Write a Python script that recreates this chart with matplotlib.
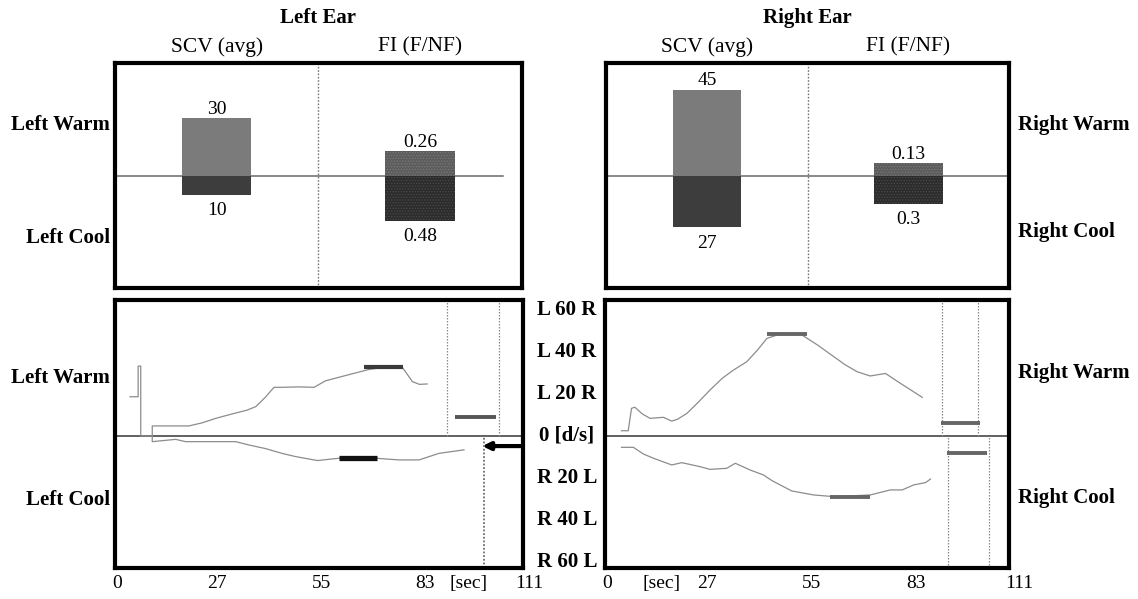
import matplotlib
matplotlib.use("Agg")
import matplotlib.pyplot as plt
from matplotlib.transforms import blended_transform_factory

plt.rcParams['font.family'] = ['Liberation Serif', 'DejaVu Serif']
plt.rcParams['hatch.linewidth'] = 0.6

# ---------------- data ----------------
ears = ["Left Ear", "Right Ear"]
columns = ["SCV (avg)", "FI (F/NF)"]
scv_warm = [30, 45]
scv_cool = [10, 27]
fi_warm = [0.26, 0.13]
fi_cool = [0.48, 0.3]
scv_warm_lbl = ["30", "45"]
scv_cool_lbl = ["10", "27"]
fi_warm_lbl = ["0.26", "0.13"]
fi_cool_lbl = ["0.48", "0.3"]

x_ticks = [0, 27, 55, 83, 111]
x_tick_labels = ["0", "27", "55", "83", "111"]
y_ticks = [60, 40, 20, 0, -20, -40, -60]
y_tick_labels = ["L 60 R", "L 40 R", "L 20 R", "0 [d/s]", "R 20 L", "R 40 L", "R 60 L"]

# Left ear traces (time [s], eye velocity [d/s])
left_warm_t = [3.5, 5.7, 5.7, 6.4, 6.4, 9.5, 9.5, 19.4, 23.0, 26.6, 31.0, 35.0, 37.4, 40.0,
               42.3, 44.5, 49.0, 53.1, 56.2, 62.0, 67.9, 72.0, 76.9, 79.6, 81.5, 83.6]
left_warm_v = [18.7, 18.7, 33.3, 33.3, 0.0, 0.0, 4.8, 4.8, 6.3, 8.4, 10.5, 12.3, 14.0, 18.5,
               23.2, 23.2, 23.4, 23.2, 26.3, 29.0, 31.7, 32.7, 32.7, 25.9, 24.6, 24.8]
left_cool_t = [9.5, 9.5, 15.8, 18.5, 24.8, 32.0, 35.6, 40.0, 44.5, 48.1, 54.0, 59.8, 69.7,
               76.0, 81.4, 86.7, 93.5]
left_cool_v = [0.0, -2.7, -1.6, -2.7, -2.7, -2.7, -4.3, -6.0, -8.3, -9.8, -11.7, -10.6,
               -10.6, -11.4, -11.4, -8.3, -6.6]
left_warm_scv = (66.5, 77.1, 32.7)
left_cool_scv = (59.8, 70.1, -10.6)
left_warm_fi = (91.2, 102.2, 9.2)
left_cool_fi = (98.4, 109.4, -4.8)
left_warm_fi_bounds = [89.0, 102.9]
left_cool_fi_bounds = [98.9]

# Right ear traces
right_warm_t = [3.9, 5.7, 6.6, 7.5, 9.5, 11.6, 15.2, 17.4, 19.0, 21.5, 24.5, 27.7, 31.0, 34.0,
                37.6, 40.5, 43.0, 46.6, 52.0, 56.5, 61.0, 64.0, 67.3, 70.8, 74.9, 78.9,
                82.0, 84.8]
right_warm_v = [2.5, 2.5, 13.2, 13.7, 10.5, 8.4, 8.9, 7.1, 8.0, 10.8, 16.0, 21.9, 27.5, 31.4,
                35.4, 41.0, 46.5, 48.6, 48.6, 43.5, 37.8, 34.0, 30.6, 28.6, 29.8, 25.1,
                21.6, 18.4]
right_cool_t = [3.9, 7.1, 9.8, 12.5, 17.4, 20.1, 25.0, 27.7, 32.2, 34.5, 38.5, 42.1, 44.4,
                49.7, 55.6, 61.0, 70.8, 76.2, 79.4, 82.5, 85.7, 87.0]
right_cool_v = [-5.4, -5.4, -8.6, -10.6, -13.8, -12.7, -14.6, -15.9, -15.4, -13.0, -16.2,
                -18.6, -21.3, -26.2, -28.1, -28.9, -28.1, -25.7, -25.7, -23.3, -22.2, -20.5]
right_warm_scv = (43.0, 53.8, 48.6)
right_cool_scv = (60.1, 70.7, -28.9)
right_warm_fi = (89.7, 100.3, 6.3)
right_cool_fi = (91.5, 102.1, -8.3)
right_warm_fi_bounds = [90.0, 99.8]
right_cool_fi_bounds = [91.8, 102.7]

# ---------------- figure ----------------
W, H = 1138, 599
fig = plt.figure(figsize=(W / 100, H / 100), dpi=100)


def fx(px):
    return px / W


def fy(py):
    return 1 - py / H


FS_LBL = 15
FS_HEAD = 15.5
FS_NUM = 14
SPINE_LW = 3.0

top_pos = [[fx(115), fy(288), fx(406.7), 224.7 / H],
           [fx(606), fy(288), fx(403.3), 224.7 / H]]
bot_pos = [[fx(115), fy(568), fx(408), 268 / H],
           [fx(605), fy(568), fx(404.3), 268 / H]]
bot_xlim = [(-0.54, 109.4), (-0.54, 108.2)]
zero_extent = [0.954, 1.0]

for i in range(2):
    ax = fig.add_axes(top_pos[i])
    axf = ax.twinx()
    ax.set_xlim(0, 2)
    ax.set_ylim(-58.8, 58.8)
    axf.set_ylim(-1.2, 1.2)
    for a in (ax, axf):
        a.set_xticks([])
        a.set_yticks([])
    for s in ax.spines.values():
        s.set_linewidth(SPINE_LW)
    for s in axf.spines.values():
        s.set_visible(False)
    ax.axhline(0, xmin=0, xmax=zero_extent[i], color="#6a6a6a", lw=1.1, zorder=1)
    ax.axvline(1, color="#777777", lw=1.0, ls=(0, (1.2, 1.2)), zorder=1)
    ax.bar(0.5, scv_warm[i], width=0.34, color="#7b7b7b", zorder=2)
    ax.bar(0.5, -scv_cool[i], width=0.34, color="#3d3d3d", zorder=2)
    axf.bar(1.5, fi_warm[i], width=0.34, color="#5c5c5c", hatch="......",
            edgecolor="#7a7a7a", lw=0, zorder=2)
    axf.bar(1.5, -fi_cool[i], width=0.34, color="#2c2c2c", hatch="......",
            edgecolor="#4a4a4a", lw=0, zorder=2)
    ax.annotate(scv_warm_lbl[i], (0.5, scv_warm[i]), xytext=(0, 0.3),
                textcoords="offset points", ha="center", va="bottom", fontsize=FS_NUM)
    ax.annotate(scv_cool_lbl[i], (0.5, -scv_cool[i]), xytext=(0, -5.5),
                textcoords="offset points", ha="center", va="top", fontsize=FS_NUM)
    axf.annotate(fi_warm_lbl[i], (1.5, fi_warm[i]), xytext=(0, 0.3),
                 textcoords="offset points", ha="center", va="bottom", fontsize=FS_NUM)
    axf.annotate(fi_cool_lbl[i], (1.5, -fi_cool[i]), xytext=(0, -5.5),
                 textcoords="offset points", ha="center", va="top", fontsize=FS_NUM)
    # headings
    bt = blended_transform_factory(ax.transData, fig.transFigure)
    ax.text(1.0, fy(18), ears[i], transform=bt, ha="center", va="center",
            fontsize=FS_LBL, fontweight="bold")
    ax.text(0.5, fy(47), columns[0], transform=bt, ha="center", va="center", fontsize=FS_HEAD)
    ax.text(1.5, fy(47), columns[1], transform=bt, ha="center", va="center", fontsize=FS_HEAD)

traces = [
    dict(wt=left_warm_t, wv=left_warm_v, ct=left_cool_t, cv=left_cool_v,
         ws=left_warm_scv, cs=left_cool_scv, wf=left_warm_fi, cf=left_cool_fi,
         wb=left_warm_fi_bounds, cb=left_cool_fi_bounds,
         wcol="#3a3a3a", ccol="#111111", wfcol="#555555", cfcol="#000000",
         wlw=3.0, clw=3.8, sec=94.6),
    dict(wt=right_warm_t, wv=right_warm_v, ct=right_cool_t, cv=right_cool_v,
         ws=right_warm_scv, cs=right_cool_scv, wf=right_warm_fi, cf=right_cool_fi,
         wb=right_warm_fi_bounds, cb=right_cool_fi_bounds,
         wcol="#666666", ccol="#666666", wfcol="#666666", cfcol="#666666",
         wlw=2.8, clw=2.8, sec=14.7),
]

bot_axes = []
for i, d in enumerate(traces):
    ax = fig.add_axes(bot_pos[i])
    bot_axes.append(ax)
    ax.set_xlim(*bot_xlim[i])
    ax.set_ylim(-62.9, 64.8)
    ax.set_xticks([])
    ax.set_yticks([])
    for s in ax.spines.values():
        s.set_linewidth(SPINE_LW)
    ax.axhline(0, color="#555555", lw=1.3, zorder=1)
    ax.plot(d["wt"], d["wv"], color="#8c8c8c", lw=0.9, zorder=2)
    ax.plot(d["ct"], d["cv"], color="#8c8c8c", lw=0.9, zorder=2)
    ax.plot(d["ws"][:2], [d["ws"][2]] * 2, color=d["wcol"], lw=d["wlw"],
            solid_capstyle="butt", zorder=3)
    ax.plot(d["cs"][:2], [d["cs"][2]] * 2, color=d["ccol"], lw=d["clw"],
            solid_capstyle="butt", zorder=3)
    ax.plot(d["wf"][:2], [d["wf"][2]] * 2, color=d["wfcol"], lw=2.8,
            solid_capstyle="butt", zorder=3)
    if i == 0:
        ax.annotate("", xy=(d["cf"][0], d["cf"][2]), xytext=(d["cf"][1], d["cf"][2]),
                    arrowprops=dict(arrowstyle="-|>,head_length=0.45,head_width=0.22",
                                    color=d["cfcol"], lw=3.0, shrinkA=0, shrinkB=0),
                    zorder=3)
    else:
        ax.plot(d["cf"][:2], [d["cf"][2]] * 2, color=d["cfcol"], lw=2.8,
                solid_capstyle="butt", zorder=3)
    ylo, yhi = ax.get_ylim()
    for xb in d["wb"]:
        ax.plot([xb, xb], [0, yhi], color="#8a8a8a", lw=0.9, ls=(0, (1.2, 1.2)), zorder=1)
    for xb in d["cb"]:
        ax.plot([xb, xb], [ylo, 0], color="#555555" if i == 0 else "#8a8a8a",
                lw=1.1 if i == 0 else 0.9, ls=(0, (1.2, 1.2)), zorder=1)
    # x tick labels
    bt = blended_transform_factory(ax.transData, ax.transAxes)
    for xv, xl in zip(x_ticks, x_tick_labels):
        ax.text(xv, -0.058, xl, transform=bt, ha="center", va="center",
                fontsize=FS_NUM, clip_on=False)
    ax.text(d["sec"], -0.058, "[sec]", transform=bt, ha="center", va="center",
            fontsize=FS_NUM, clip_on=False)

# middle y labels
bt = blended_transform_factory(fig.transFigure, bot_axes[0].transData)
for yv, yl in zip(y_ticks, y_tick_labels):
    bot_axes[0].text(fx(567), yv, yl, transform=bt, ha="center", va="center",
                     fontsize=FS_LBL, fontweight="bold", clip_on=False)

# row labels
row_left = [("Left Warm", 125), ("Left Cool", 238), ("Left Warm", 378), ("Left Cool", 500)]
row_right = [("Right Warm", 125), ("Right Cool", 232), ("Right Warm", 373), ("Right Cool", 498)]
for txt, py in row_left:
    fig.text(fx(110), fy(py), txt, ha="right", va="center", fontsize=FS_LBL, fontweight="bold")
for txt, py in row_right:
    fig.text(fx(1018), fy(py), txt, ha="left", va="center", fontsize=FS_LBL, fontweight="bold")

fig.savefig("out.png", dpi=100)
